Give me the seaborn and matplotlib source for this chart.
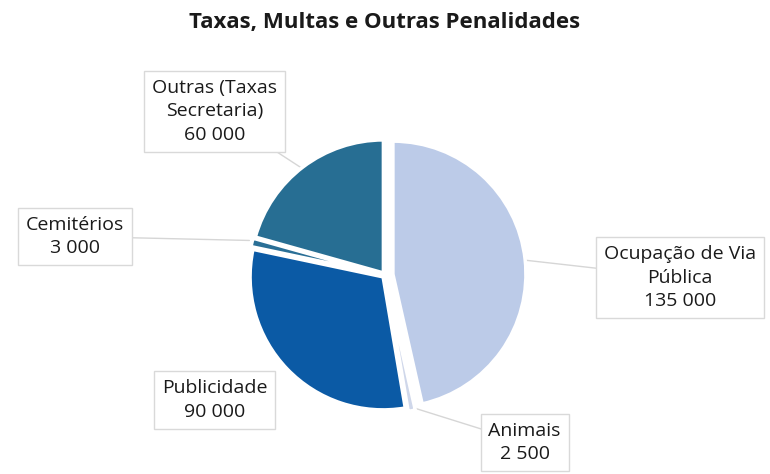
import matplotlib
matplotlib.use("Agg")
import matplotlib.pyplot as plt
import seaborn as sns

sns.set_theme(style="white")
plt.rcParams['font.family'] = ['Open Sans', 'DejaVu Sans']

labels = ['Ocupação de Via\nPública', 'Animais', 'Publicidade', 'Cemitérios', 'Outras (Taxas\nSecretaria)']
values = [135000, 2500, 90000, 3000, 60000]
colors = ['#bccbe8', '#cfd7ea', '#0b5aa5', '#2a6f96', '#276e93']
explode = [0.06, 0.04, 0.02, 0.03, 0.02]

# label box centre and point on the slice for the leader line (radius units)
label_pos = [(2.22, -0.02), (1.05, -1.26), (-1.28, -0.94), (-2.33, 0.29), (-1.28, 1.23)]
line_end = [(0.98, 0.12), (0.22, -1.0), None, (-1.02, 0.26), (-0.62, 0.8)]

def fmt(v):
    return f"{v:,}".replace(',', ' ')

fig = plt.figure(figsize=(7.7, 4.74), dpi=100)
ax = fig.add_axes([0, 0, 1, 1])
ax.pie(values, colors=colors, startangle=90, counterclock=False, explode=explode,
       radius=1.0, wedgeprops={'edgecolor': 'white', 'linewidth': 2.5})
ax.set_xlim(-2.895, 2.895)
ax.set_ylim(-1.496, 2.068)
ax.set_aspect('equal')
ax.axis('off')

for lab, v, (tx, ty), end in zip(labels, values, label_pos, line_end):
    if end is not None:
        ax.plot([tx, end[0]], [ty, end[1]], color='#d6d6d6', lw=1.0, zorder=0)
    ax.text(tx, ty, lab + '\n' + fmt(v), ha='center', va='center', fontsize=14,
            color='#1a1a1a', linespacing=1.4,
            bbox=dict(boxstyle='square,pad=0.4', facecolor='white', edgecolor='#d9d9d9', lw=1))

ax.text(0, 1.90, 'Taxas, Multas e Outras Penalidades', ha='center', va='center',
        fontsize=16, fontweight='bold', color='#1a1a1a')

fig.savefig('out.png', dpi=100)
